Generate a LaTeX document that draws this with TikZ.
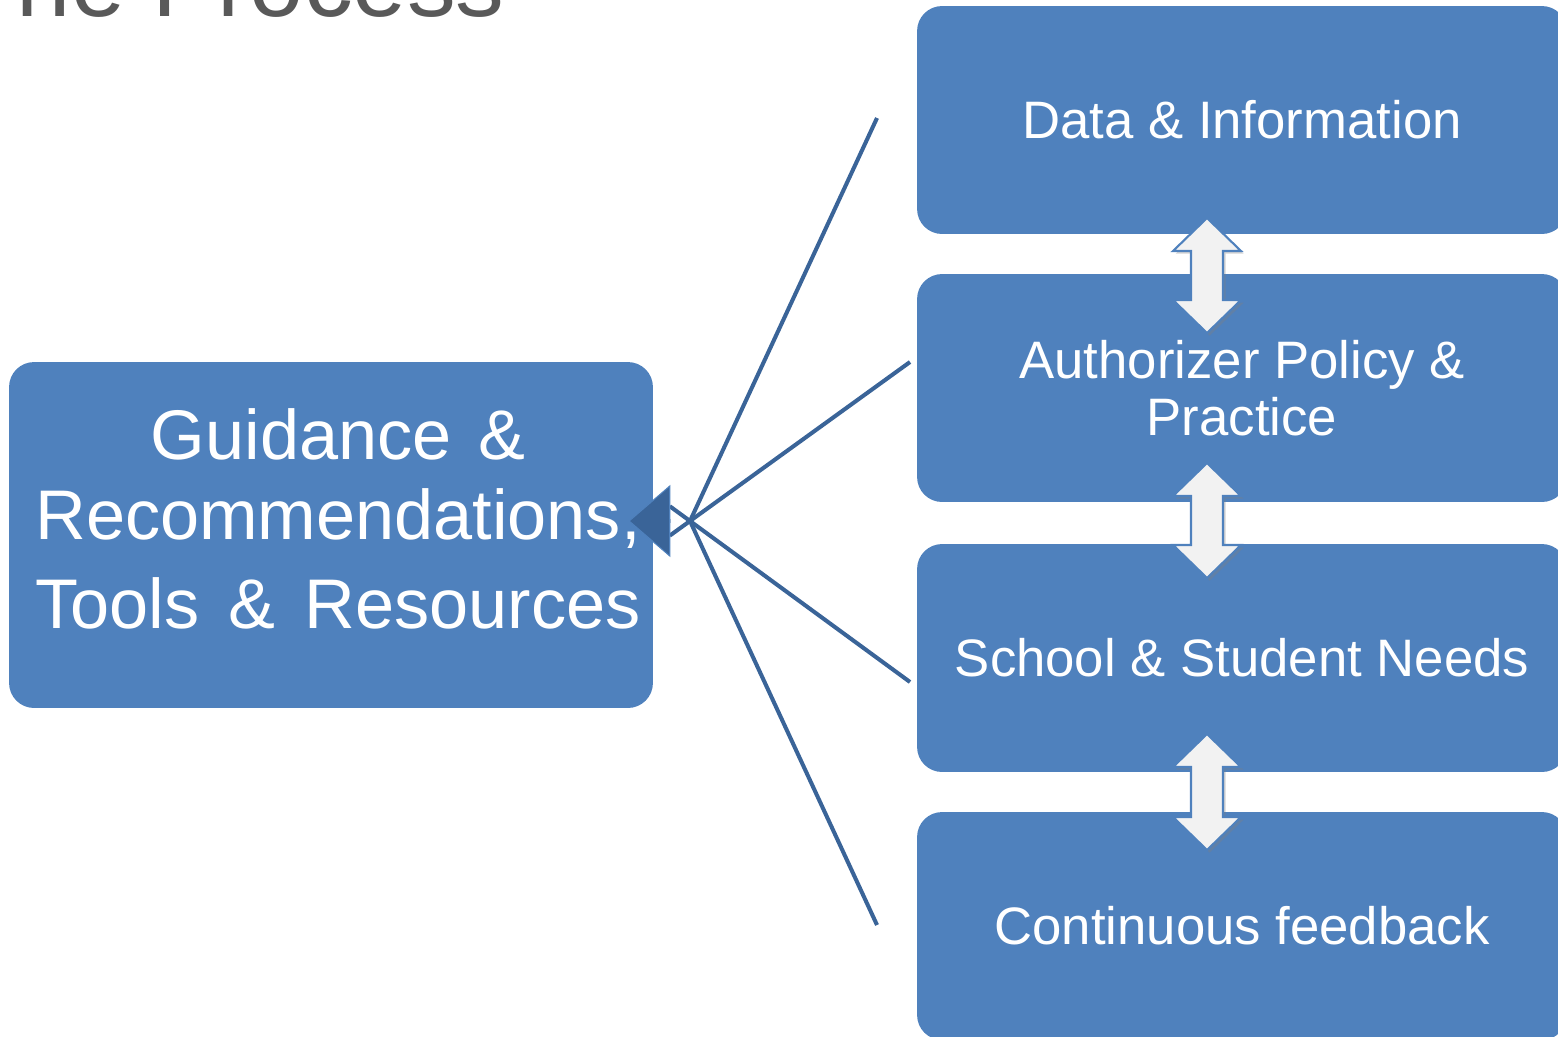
\documentclass[tikz,border=0pt]{standalone}
\usepackage{fontspec}
\setmainfont{Liberation Sans}
\usepackage{xcolor}
\usetikzlibrary{arrows.meta,shadows}

\definecolor{boxblue}{HTML}{4F81BD}
\definecolor{linkblue}{HTML}{3A6498}
\definecolor{titlegray}{HTML}{595959}
\definecolor{arrowfill}{HTML}{F2F2F2}

\begin{document}
\begin{tikzpicture}[x=0.02cm, y=-0.02cm,
    stepbox/.style = {shape=rectangle, rounded corners=0.5cm,
      fill=boxblue, text=white, align=center, inner sep=0pt,
      minimum width=13cm, minimum height=4.56cm,
      font=\fontsize{30}{32.5}\selectfont},
    guidebox/.style = {shape=rectangle, rounded corners=0.5cm,
      fill=boxblue, inner sep=0pt,
      minimum width=12.88cm, minimum height=6.92cm},
    link/.style = {draw=linkblue, line width=2.3pt},
    twoway/.style = {fill=arrowfill, draw=boxblue, line width=1.2pt,
      line join=miter,
      drop shadow={shadow xshift=1.5pt, shadow yshift=-1.5pt, opacity=0.35}}]
  \clip (0,0) rectangle (1558,1036);
  \useasboundingbox (0,0) rectangle (1558,1036);

  % title, cut by the top edge
  \node[anchor=base west, inner sep=0pt, text=titlegray,
    font=\fontsize{55.5}{60}\selectfont] (title) at (-43,16) {The Process};

  % stack of boxes on the right
  \node[stepbox] (data)     at (1242,120) {Data \& Information};
  \node[stepbox] (policy)   at (1242,388) {Authorizer Policy \&\\Practice};
  \node[stepbox] (needs)    at (1242,658) {School \& Student Needs};
  \node[stepbox] (feedback) at (1242,926) {Continuous feedback};

  % two-way arrows between the boxes
  \foreach \ya/\yb in {218/333, 463/578, 734/850}
    \filldraw[twoway] (1207,\ya) -- ++(34,33) -- ++(-18,0) -- (1223,\yb-33)
      -- ++(18,0) -- (1207,\yb) -- ++(-34,-33) -- ++(18,0) -- (1191,\ya+33)
      -- ++(-18,0) -- cycle;

  % result box
  \node[guidebox] (guide) at (331,535) {};
  \node[text=white, align=center, inner sep=0pt,
    font=\fontsize{40}{45.4}\selectfont] (guidetxt) at (338,519)
    {Guidance\hspace{4pt} \&\\Recommendations,\\[5.6pt]%
     Tools\hspace{5.5pt} \&\hspace{5.5pt} Resources};

  % bracket lines meeting in one point
  \coordinate (hub) at (690,521);
  \coordinate (e1) at (877,118);
  \coordinate (e2) at (910,362);
  \coordinate (e3) at (910,682);
  \coordinate (e4) at (877,925);
  \foreach \e in {e1,e4}
    \draw[link] (\e) -- (hub);
  \foreach \e in {e2,e3}
    \draw[link, shorten >=-0.5cm] (\e) -- (hub);
  \draw[link, shorten <=0.4cm, shorten >=-0.5cm,
    -{Triangle[length=0.84cm, width=1.44cm, line width=0.6pt,
      color=boxblue, fill=linkblue]}] (hub) -- (hub -| guide.east);
\end{tikzpicture}
\end{document}
